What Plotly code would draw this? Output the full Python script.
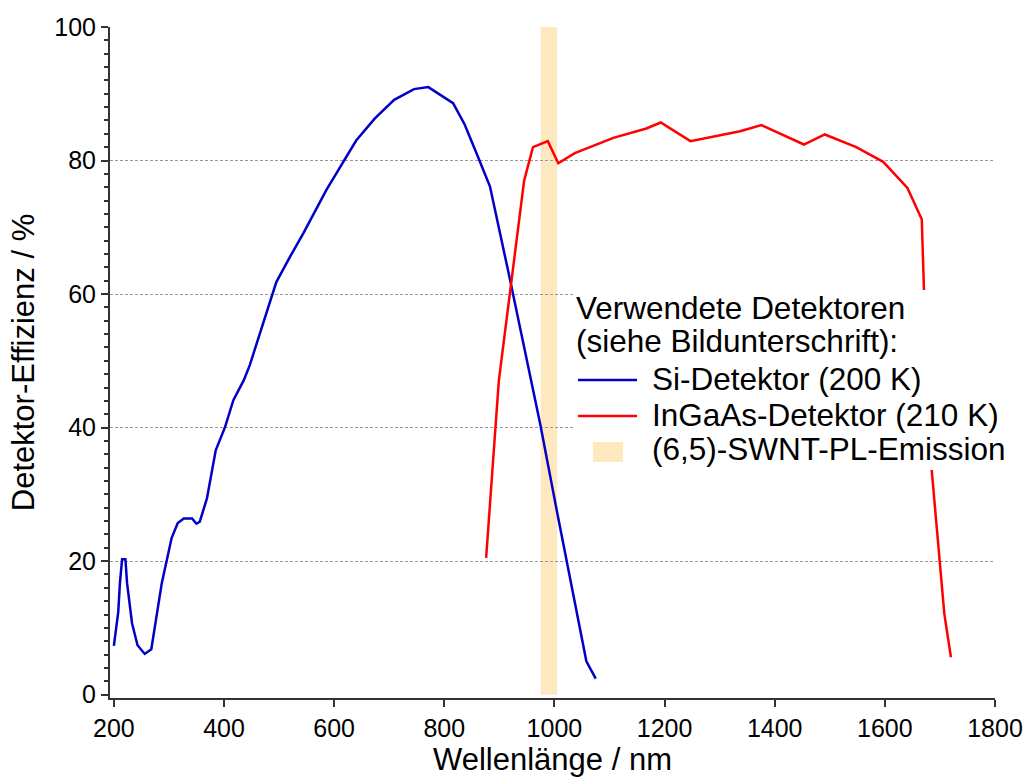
import plotly.graph_objects as go

# ---------------- data ----------------
si_wl = [200, 208, 211, 215, 221, 224, 233, 243, 256, 268, 287, 305, 316, 327,
         342, 350, 356, 369, 385, 402, 417, 436, 447, 495, 520, 544, 586, 640,
         674, 709, 745, 771, 816, 837, 860, 883, 919, 974, 1004, 1031, 1058, 1075]
si_eff = [7.3, 12.4, 16.7, 20.3, 20.3, 16.7, 10.7, 7.4, 6.1, 6.8, 16.7, 23.5, 25.7, 26.4,
          26.4, 25.6, 25.9, 29.4, 36.6, 40.1, 44.1, 47.1, 49.4, 61.8, 65.6, 69.1, 75.6, 83.0,
          86.3, 89.1, 90.7, 91.0, 88.6, 85.4, 80.8, 76.1, 62.3, 40.6, 27.7, 16.3, 5.0, 2.4]

ingaas_wl = [876, 899, 945, 961, 988, 1007, 1037, 1107, 1167, 1193, 1247, 1337, 1376,
             1453, 1491, 1548, 1597, 1641, 1667, 1671, 1685, 1699, 1708, 1720]
ingaas_eff = [20.5, 47.0, 77.0, 82.0, 82.9, 79.6, 81.1, 83.4, 84.8, 85.7, 82.9, 84.4, 85.3,
              82.4, 83.9, 82.0, 79.8, 75.9, 71.2, 60.7, 33.7, 20.4, 12.1, 5.6]

pl_band_wl = [975, 1005]
pl_band_eff = [0, 100]

x_ticks = [200, 400, 600, 800, 1000, 1200, 1400, 1600, 1800]
y_ticks = [0, 20, 40, 60, 80, 100]
y_minor_step = 2

legend_title_lines = ["Verwendete Detektoren", "(siehe Bildunterschrift):"]
series_names = ["Si-Detektor (200 K)", "InGaAs-Detektor (210 K)", "(6,5)-SWNT-PL-Emission"]
x_title = "Wellenlänge / nm"
y_title = "Detektor-Effizienz / %"

# ---------------- style ----------------
BLUE = "#0000C8"
RED = "#FF0000"
BAND = "#FDE8BF"
AX = "#333333"
FONT = "Liberation Sans, Arial, sans-serif"

W, H = 1028, 777
L, R, T, B = 110, 33, 27, 79
X_RANGE = [193, 1800]
Y_RANGE = [-0.5, 100]


def px(xp):
    return (xp - L) / (W - L - R)


def py(yp):
    return (H - B - yp) / (H - T - B)


fig = go.Figure()
fig.add_trace(go.Scatter(x=si_wl, y=si_eff, mode="lines", name=series_names[0],
                         line=dict(color=BLUE, width=2.5), showlegend=False))
fig.add_trace(go.Scatter(x=ingaas_wl, y=ingaas_eff, mode="lines", name=series_names[1],
                         line=dict(color=RED, width=2.5), showlegend=False))

# emission band
fig.add_shape(type="rect", xref="x", yref="y", x0=pl_band_wl[0], x1=pl_band_wl[1],
              y0=pl_band_eff[0], y1=pl_band_eff[1], fillcolor=BAND, line_width=0, layer="below")

# ---------------- legend (drawn as box + text) ----------------
fig.add_shape(type="rect", xref="paper", yref="paper", x0=px(573), x1=px(1000),
              y0=py(470), y1=py(290), fillcolor="white", line_width=0, layer="above")
LF = 31.5
title_y = [308, 341]
for txt, yc in zip(legend_title_lines, title_y):
    fig.add_annotation(xref="paper", yref="paper", x=px(575), y=py(yc), text=txt,
                       showarrow=False, xanchor="left", yanchor="middle", borderpad=0,
                       font=dict(family=FONT, size=LF, color="black"))
item_y = [379, 415, 449]
for txt, yc in zip(series_names, item_y):
    fig.add_annotation(xref="paper", yref="paper", x=px(651), y=py(yc), text=txt,
                       showarrow=False, xanchor="left", yanchor="middle", borderpad=0,
                       font=dict(family=FONT, size=LF, color="black"))
for col, yc in zip([BLUE, RED], [380, 416]):
    fig.add_shape(type="line", xref="paper", yref="paper", x0=px(578), x1=px(637),
                  y0=py(yc), y1=py(yc), line=dict(color=col, width=2.5), layer="above")
fig.add_shape(type="rect", xref="paper", yref="paper", x0=px(593), x1=px(623),
              y0=py(462), y1=py(442), fillcolor=BAND, line_width=0, layer="above")

fig.update_layout(
    width=W, height=H,
    margin=dict(l=L, r=R, t=T, b=B, pad=0),
    paper_bgcolor="white", plot_bgcolor="white",
    font=dict(family=FONT, color="black"),
    showlegend=False,
)
fig.update_xaxes(
    range=X_RANGE, tickmode="linear", tick0=x_ticks[0], dtick=x_ticks[1] - x_ticks[0],
    ticks="outside", ticklen=7, tickwidth=1.5, tickcolor=AX,
    showline=True, linecolor=AX, linewidth=2, showgrid=False, zeroline=False,
    tickfont=dict(family=FONT, size=25, color="black"),
    title=dict(text=x_title, font=dict(family=FONT, size=31, color="black"), standoff=4),
    automargin=False,
)
fig.update_yaxes(
    range=Y_RANGE, tickmode="linear", tick0=y_ticks[0], dtick=y_ticks[1] - y_ticks[0],
    ticks="outside", ticklen=7, tickwidth=1.5, tickcolor=AX,
    showline=True, linecolor=AX, linewidth=2,
    showgrid=True, gridcolor="#999999", gridwidth=1, griddash="3px,2px",
    zeroline=True, zerolinecolor="rgba(0,0,0,0)",
    minor=dict(tickmode="linear", dtick=y_minor_step, tick0=y_ticks[0], ticks="outside",
               ticklen=4, tickwidth=1.5, tickcolor=AX, showgrid=False),
    tickfont=dict(family=FONT, size=25, color="black"),
    title=dict(text=y_title, font=dict(family=FONT, size=31, color="black"), standoff=10),
    automargin=False,
)

fig.write_html("out.html")
